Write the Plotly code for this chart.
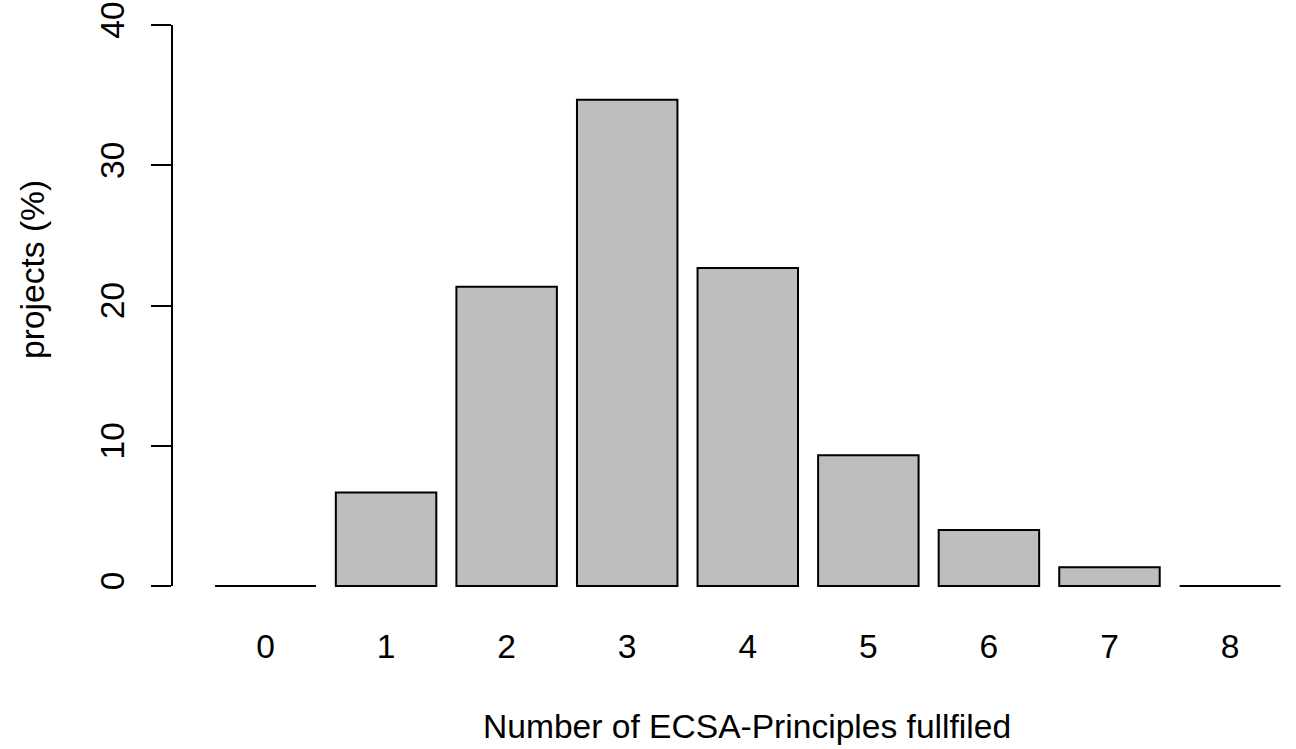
import plotly.graph_objects as go

categories = ["0", "1", "2", "3", "4", "5", "6", "7", "8"]
values = [0, 6.67, 21.33, 34.67, 22.67, 9.33, 4.0, 1.33, 0]
y_ticks = [0, 10, 20, 30, 40]
x_title = "Number of ECSA-Principles fullfiled"
y_title = "projects (%)"

FONT = "Liberation Sans, Arial, sans-serif"
FS = 33.6
BAR_W = 1 / 1.2  # R barplot: width 1, space 0.2

positions = list(range(len(categories)))

fig = go.Figure()
fig.add_trace(go.Bar(
    x=positions, y=values, width=BAR_W,
    marker=dict(color="#BEBEBE", line=dict(color="black", width=2)),
    showlegend=False, hoverinfo="skip",
))

# zero-height bars are drawn by R as a flat line
zx, zy = [], []
for p, v in zip(positions, values):
    if v == 0:
        zx += [p - BAR_W / 2, p + BAR_W / 2, None]
        zy += [0, 0, None]
fig.add_trace(go.Scatter(x=zx, y=zy, mode="lines", line=dict(color="black", width=2),
                         showlegend=False, hoverinfo="skip", cliponaxis=False))

# R-style y axis line from first to last tick
fig.add_shape(type="line", xref="paper", yref="y", x0=0, x1=0,
              y0=y_ticks[0], y1=y_ticks[-1], line=dict(color="black", width=2))

fig.update_layout(
    width=1296, height=749,
    margin=dict(l=172, r=0, t=3, b=141),
    plot_bgcolor="white", paper_bgcolor="white",
    font=dict(family=FONT, size=FS, color="black"),
    xaxis=dict(
        range=[-0.7755, 8.547], tickmode="array", tickvals=positions, ticktext=categories,
        showline=False, showgrid=False, zeroline=False, ticks="",
        ticklabelstandoff=15, tickfont=dict(size=FS),
    ),
    yaxis=dict(
        range=[-1.569, 41.569], tickmode="array", tickvals=y_ticks,
        ticktext=[str(t) for t in y_ticks],
        showline=False, showgrid=False, zeroline=False,
        ticks="outside", ticklen=20, tickwidth=2, tickcolor="black",
        tickangle=-90, tickfont=dict(size=FS), ticklabelstandoff=14,
    ),
    annotations=[
        dict(text=x_title, xref="paper", yref="paper", x=0.5, xshift=13, y=0, yshift=-(726 - 608),
             xanchor="center", yanchor="middle", showarrow=False, font=dict(size=FS)),
        dict(text=y_title, xref="paper", yref="y", x=0, xshift=-(172 - 32), y=0, yshift=-(270 - 586),
             xanchor="center", yanchor="middle", textangle=-90, showarrow=False, font=dict(size=FS)),
    ],
)

fig.write_html("out.html", config={"displayModeBar": False},
               post_script="document.body.style.margin='0';document.body.style.overflow='hidden';")
